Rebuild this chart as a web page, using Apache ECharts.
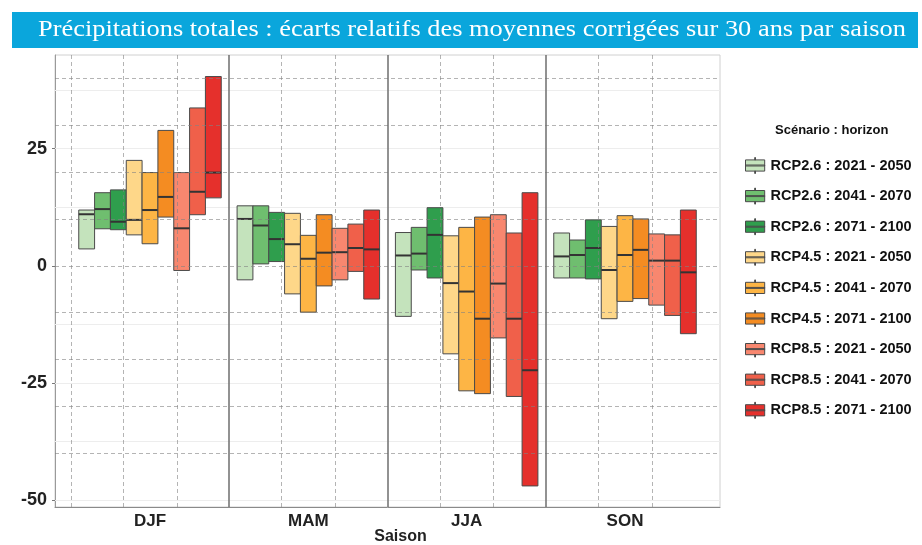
<!DOCTYPE html>
<html>
<head>
<meta charset="utf-8">
<script src="https://cdn.jsdelivr.net/npm/echarts@6/dist/echarts.min.js"></script>
<style>
  html, body { margin: 0; padding: 0; background: #fff; }
  #chart { width: 922px; height: 545px; }
</style>
</head>
<body>
<div id="chart"></div>
<script>
// saisons (axe x) et scénarios (séries)
const seasons = ['DJF', 'MAM', 'JJA', 'SON'];
const scenarios = [
  'RCP2.6 : 2021 - 2050', 'RCP2.6 : 2041 - 2070', 'RCP2.6 : 2071 - 2100',
  'RCP4.5 : 2021 - 2050', 'RCP4.5 : 2041 - 2070', 'RCP4.5 : 2071 - 2100',
  'RCP8.5 : 2021 - 2050', 'RCP8.5 : 2041 - 2070', 'RCP8.5 : 2071 - 2100'
];
const colors = [
  '#c4e3bc', '#6fbe6f', '#2f9e4d',
  '#fed789', '#fdb545', '#f48c22',
  '#f8876f', '#f0604a', '#e5302c'
];

// écarts relatifs (%) : une ligne par saison, une valeur par scénario
const lowValues = [
  [3.6, 7.9, 7.7, 6.6, 4.7, 10.4, -1.0, 10.9, 14.5],
  [-3.0, 0.4, 0.9, -6.0, -9.9, -4.3, -3.0, -1.2, -7.1],
  [-10.8, -0.9, -2.6, -18.8, -26.7, -27.3, -15.4, -27.9, -47.0],
  [-2.6, -2.6, -2.8, -11.3, -7.6, -7.0, -8.4, -10.6, -14.5]
];
const highValues = [
  [11.9, 15.6, 16.2, 22.5, 19.9, 28.9, 19.9, 33.7, 40.4],
  [12.8, 12.8, 11.4, 11.2, 6.5, 10.9, 8.0, 8.9, 11.9],
  [7.1, 8.2, 12.4, 6.4, 8.2, 10.4, 10.9, 7.0, 15.6],
  [7.0, 5.5, 9.8, 8.4, 10.7, 10.0, 6.8, 6.6, 11.9]
];
const medianValues = [
  [11.0, 12.1, 9.4, 9.8, 11.9, 14.7, 8.0, 15.8, 19.9],
  [10.0, 8.6, 5.7, 4.6, 1.5, 2.8, 2.9, 3.8, 3.5],
  [2.2, 2.6, 6.6, -3.7, -5.5, -11.3, -3.8, -11.3, -22.3],
  [2.0, 2.3, 3.8, -0.9, 2.3, 3.4, 1.1, 1.1, -1.4]
];
const yTickLabels = [-50, -25, 0, 25];

const chart = echarts.init(document.getElementById('chart'));

const BW = 0.1; // largeur d'une boîte en unités de catégorie
const font = "'Liberation Sans Narrow', 'Liberation Sans', sans-serif";

// boîtes : une série custom par scénario
const boxSeries = scenarios.map((name, k) => ({
  name: name,
  type: 'custom',
  z: 2,
  itemStyle: { color: colors[k], borderColor: '#4a4a4a', borderWidth: 1 },
  encode: { x: 0, y: [1, 2, 3] },
  data: seasons.map((s, i) => [i + 1, lowValues[i][k], highValues[i][k], medianValues[i][k]]),
  renderItem: (params, api) => {
    const x0 = api.value(0) + (k - 4) * BW - BW / 2;
    const p1 = api.coord([x0, api.value(2)]);
    const p2 = api.coord([x0 + BW, api.value(1)]);
    const m = api.coord([x0, api.value(3)]);
    return {
      type: 'group',
      children: [
        {
          type: 'rect',
          shape: { x: p1[0], y: p1[1], width: p2[0] - p1[0], height: p2[1] - p1[1] },
          style: { fill: colors[k], stroke: '#4a4a4a', lineWidth: 1 }
        },
        {
          type: 'line',
          shape: { x1: p1[0], y1: m[1], x2: p2[0], y2: m[1] },
          style: { stroke: '#333', lineWidth: 2 }
        }
      ]
    };
  }
}));

// lignes de fond et pointillés
const minorY = [-37.5, -12.5, 12.5, 37.5, -50, -25, 25];
const dashedY = [-40, -30, -20, -10, 0, 10, 20, 30, 40];
const dashedX = [];
for (let i = 0; i < 4; i++) {
  dashedX.push(i + 0.5, i + 0.5 + 1 / 3, i + 0.5 + 2 / 3);
}
const separatorsX = [1.5, 2.5, 3.5];

function guide(z, lineStyle, data) {
  return {
    type: 'line', data: [], z: z, silent: true,
    markLine: {
      silent: true, symbol: 'none', label: { show: false }, animation: false,
      z: z, lineStyle: lineStyle, data: data
    }
  };
}

const guideSeries = [
  guide(1, { color: '#ededed', type: 'solid', width: 1 }, minorY.map(v => ({ yAxis: v }))),
  guide(3, { color: 'rgba(130,130,130,0.6)', type: [4, 3], width: 1 },
    dashedY.map(v => ({ yAxis: v }))
      .concat(dashedX.filter(v => separatorsX.indexOf(Math.round(v * 1000) / 1000) < 0).map(v => ({ xAxis: v })))),
  guide(4, { color: '#6e6e6e', type: 'solid', width: 1.5 }, separatorsX.map(v => ({ xAxis: v })))
];

const option = {
  animation: false,
  backgroundColor: '#fff',
  graphic: [
    {
      type: 'rect', left: 12, top: 12,
      shape: { width: 906, height: 36 },
      style: { fill: '#0aa6dc' }
    },
    {
      type: 'text', x: 472, y: 30, scaleX: 1.1,
      style: {
        text: 'Précipitations totales : écarts relatifs des moyennes corrigées sur 30 ans par saison',
        fill: '#fff', font: "24px 'Liberation Serif', serif",
        align: 'center', verticalAlign: 'middle'
      }
    },
    {
      type: 'text', left: 775, top: 124,
      style: { text: 'Scénario : horizon', fill: '#111', font: "bold 13px " + font }
    }
  ],
  legend: {
    orient: 'vertical',
    left: 740, top: 152,
    itemWidth: 25, itemHeight: 16, itemGap: 13.6,
    data: scenarios,
    icon: 'path://M11.5,0 h1 v3 h-1 Z M0,3 H24 V17 H0 Z M0,9.4 H24 V10.6 H0 Z M11.5,17 h1 v3 h-1 Z',
    itemStyle: { borderColor: '#4a4a4a', borderWidth: 1 },
    textStyle: { fontFamily: font, fontWeight: 'bold', fontSize: 14.5, color: '#111', padding: [0, 0, 0, -2] }
  },
  grid: {
    left: 55, right: 202, top: 55, bottom: 38,
    outerBoundsMode: 'none',
    show: true, borderColor: '#d0d0d0', borderWidth: 1
  },
  xAxis: {
    type: 'value', min: 0.4, max: 4.6,
    name: 'Saison', nameLocation: 'middle', nameGap: 22, nameMoveOverlap: false,
    nameTextStyle: {
      fontFamily: font, fontWeight: 'bold', fontSize: 16, color: '#222',
      padding: [0, 0, 0, 26], verticalAlign: 'top'
    },
    axisLine: { show: true, onZero: false, lineStyle: { color: '#8a8a8a', width: 1 } },
    axisTick: { show: false },
    splitLine: { show: false },
    axisLabel: {
      customValues: [1, 2, 3, 4],
      formatter: v => seasons[Math.round(v) - 1] || '',
      margin: 6,
      fontFamily: font, fontWeight: 'bold', fontSize: 17, color: '#222'
    }
  },
  yAxis: {
    type: 'value', min: -51.5, max: 45,
    axisLine: { show: true, onZero: false, lineStyle: { color: '#9a9a9a', width: 1 } },
    axisTick: { show: true, customValues: yTickLabels, length: 3, lineStyle: { color: '#777' } },
    splitLine: { show: false },
    axisLabel: {
      customValues: yTickLabels,
      margin: 8,
      fontFamily: font, fontWeight: 'bold', fontSize: 18, color: '#222'
    }
  },
  series: guideSeries.concat(boxSeries)
};

chart.setOption(option);
</script>
</body>
</html>
